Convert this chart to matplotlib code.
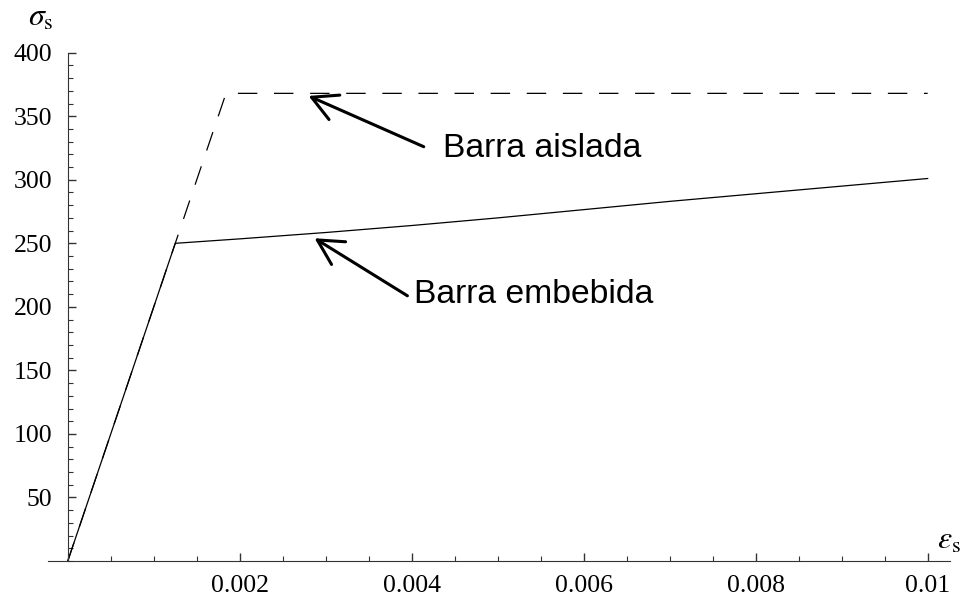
import matplotlib
matplotlib.use('Agg')
import matplotlib.pyplot as plt
from matplotlib.ticker import MultipleLocator, FixedLocator

plt.rcParams['mathtext.fontset'] = 'stix'
plt.rcParams['lines.scale_dashes'] = False

# curva de la barra aislada (elastoplastica perfecta)
eps_aislada = [0, 0.00184, 0.01]
sig_aislada = [0, 368, 368]

# curva de la barra embebida en hormigon
eps_embebida = [0, 0.00125, 0.002, 0.003, 0.004, 0.005, 0.006, 0.007, 0.008, 0.009, 0.01]
sig_embebida = [0, 250, 253.5, 258.5, 264, 270, 276.5, 283, 289, 295, 301]

x_ticks = [0.002, 0.004, 0.006, 0.008, 0.01]
x_labels = ['0.002', '0.004', '0.006', '0.008', '0.01']
y_ticks = [50, 100, 150, 200, 250, 300, 350, 400]

fig = plt.figure(figsize=(9.65, 6.01), dpi=100)
ax = fig.add_axes([48 / 965, 40 / 601, 902 / 965, 508.3 / 601])

ax.plot(eps_embebida, sig_embebida, color='black', lw=0.9)
ax.plot(eps_aislada, sig_aislada, color='black', lw=0.9, linestyle=(0, (14, 12)))

ax.set_xlim(-0.00023, 0.01026)
ax.set_ylim(0, 400)

# ejes estilo Mathematica cruzando en el origen
for s in ['top', 'right']:
    ax.spines[s].set_visible(False)
ax.spines['left'].set_position(('data', 0))
ax.spines['left'].set_color('#333333')
ax.spines['bottom'].set_color('#333333')

ax.xaxis.set_major_locator(FixedLocator(x_ticks))
ax.set_xticklabels(x_labels)
ax.xaxis.set_minor_locator(MultipleLocator(0.0005))
ax.yaxis.set_major_locator(FixedLocator(y_ticks))
ax.yaxis.set_minor_locator(MultipleLocator(10))

ax.tick_params(which='both', direction='in', color='#333333')
ax.tick_params(which='major', length=6, width=1)
ax.tick_params(which='minor', length=3.5, width=0.8)
ax.tick_params(axis='y', which='major', pad=11)
ax.tick_params(axis='x', which='major', pad=10)
for lab in ax.get_xticklabels() + ax.get_yticklabels():
    lab.set_fontfamily('Liberation Serif')
    lab.set_fontsize(18.5)

# etiquetas de los ejes
ax.text(-0.00031, 428, r'$\sigma_{\rm s}$', fontsize=23, ha='center', va='center', clip_on=False)
ax.text(0.01025, 16, r'$\varepsilon_{\rm s}$', fontsize=23, ha='center', va='center', clip_on=False)

# flechas y textos
arrow = dict(arrowstyle='->,head_length=0.9,head_width=0.48', lw=2.2, color='black',
             shrinkA=0, shrinkB=0, mutation_scale=20)
ax.annotate('', xy=(0.0028, 366), xytext=(0.00414, 326), arrowprops=arrow)
ax.annotate('', xy=(0.00287, 254), xytext=(0.00395, 208.7), arrowprops=arrow)
ax.text(0.00436, 324.4, 'Barra aislada', fontfamily='Liberation Sans', fontsize=24.3, va='center')
ax.text(0.00403, 209.4, 'Barra embebida', fontfamily='Liberation Sans', fontsize=24.3, va='center')

fig.savefig('out.png', dpi=100, facecolor='white')
